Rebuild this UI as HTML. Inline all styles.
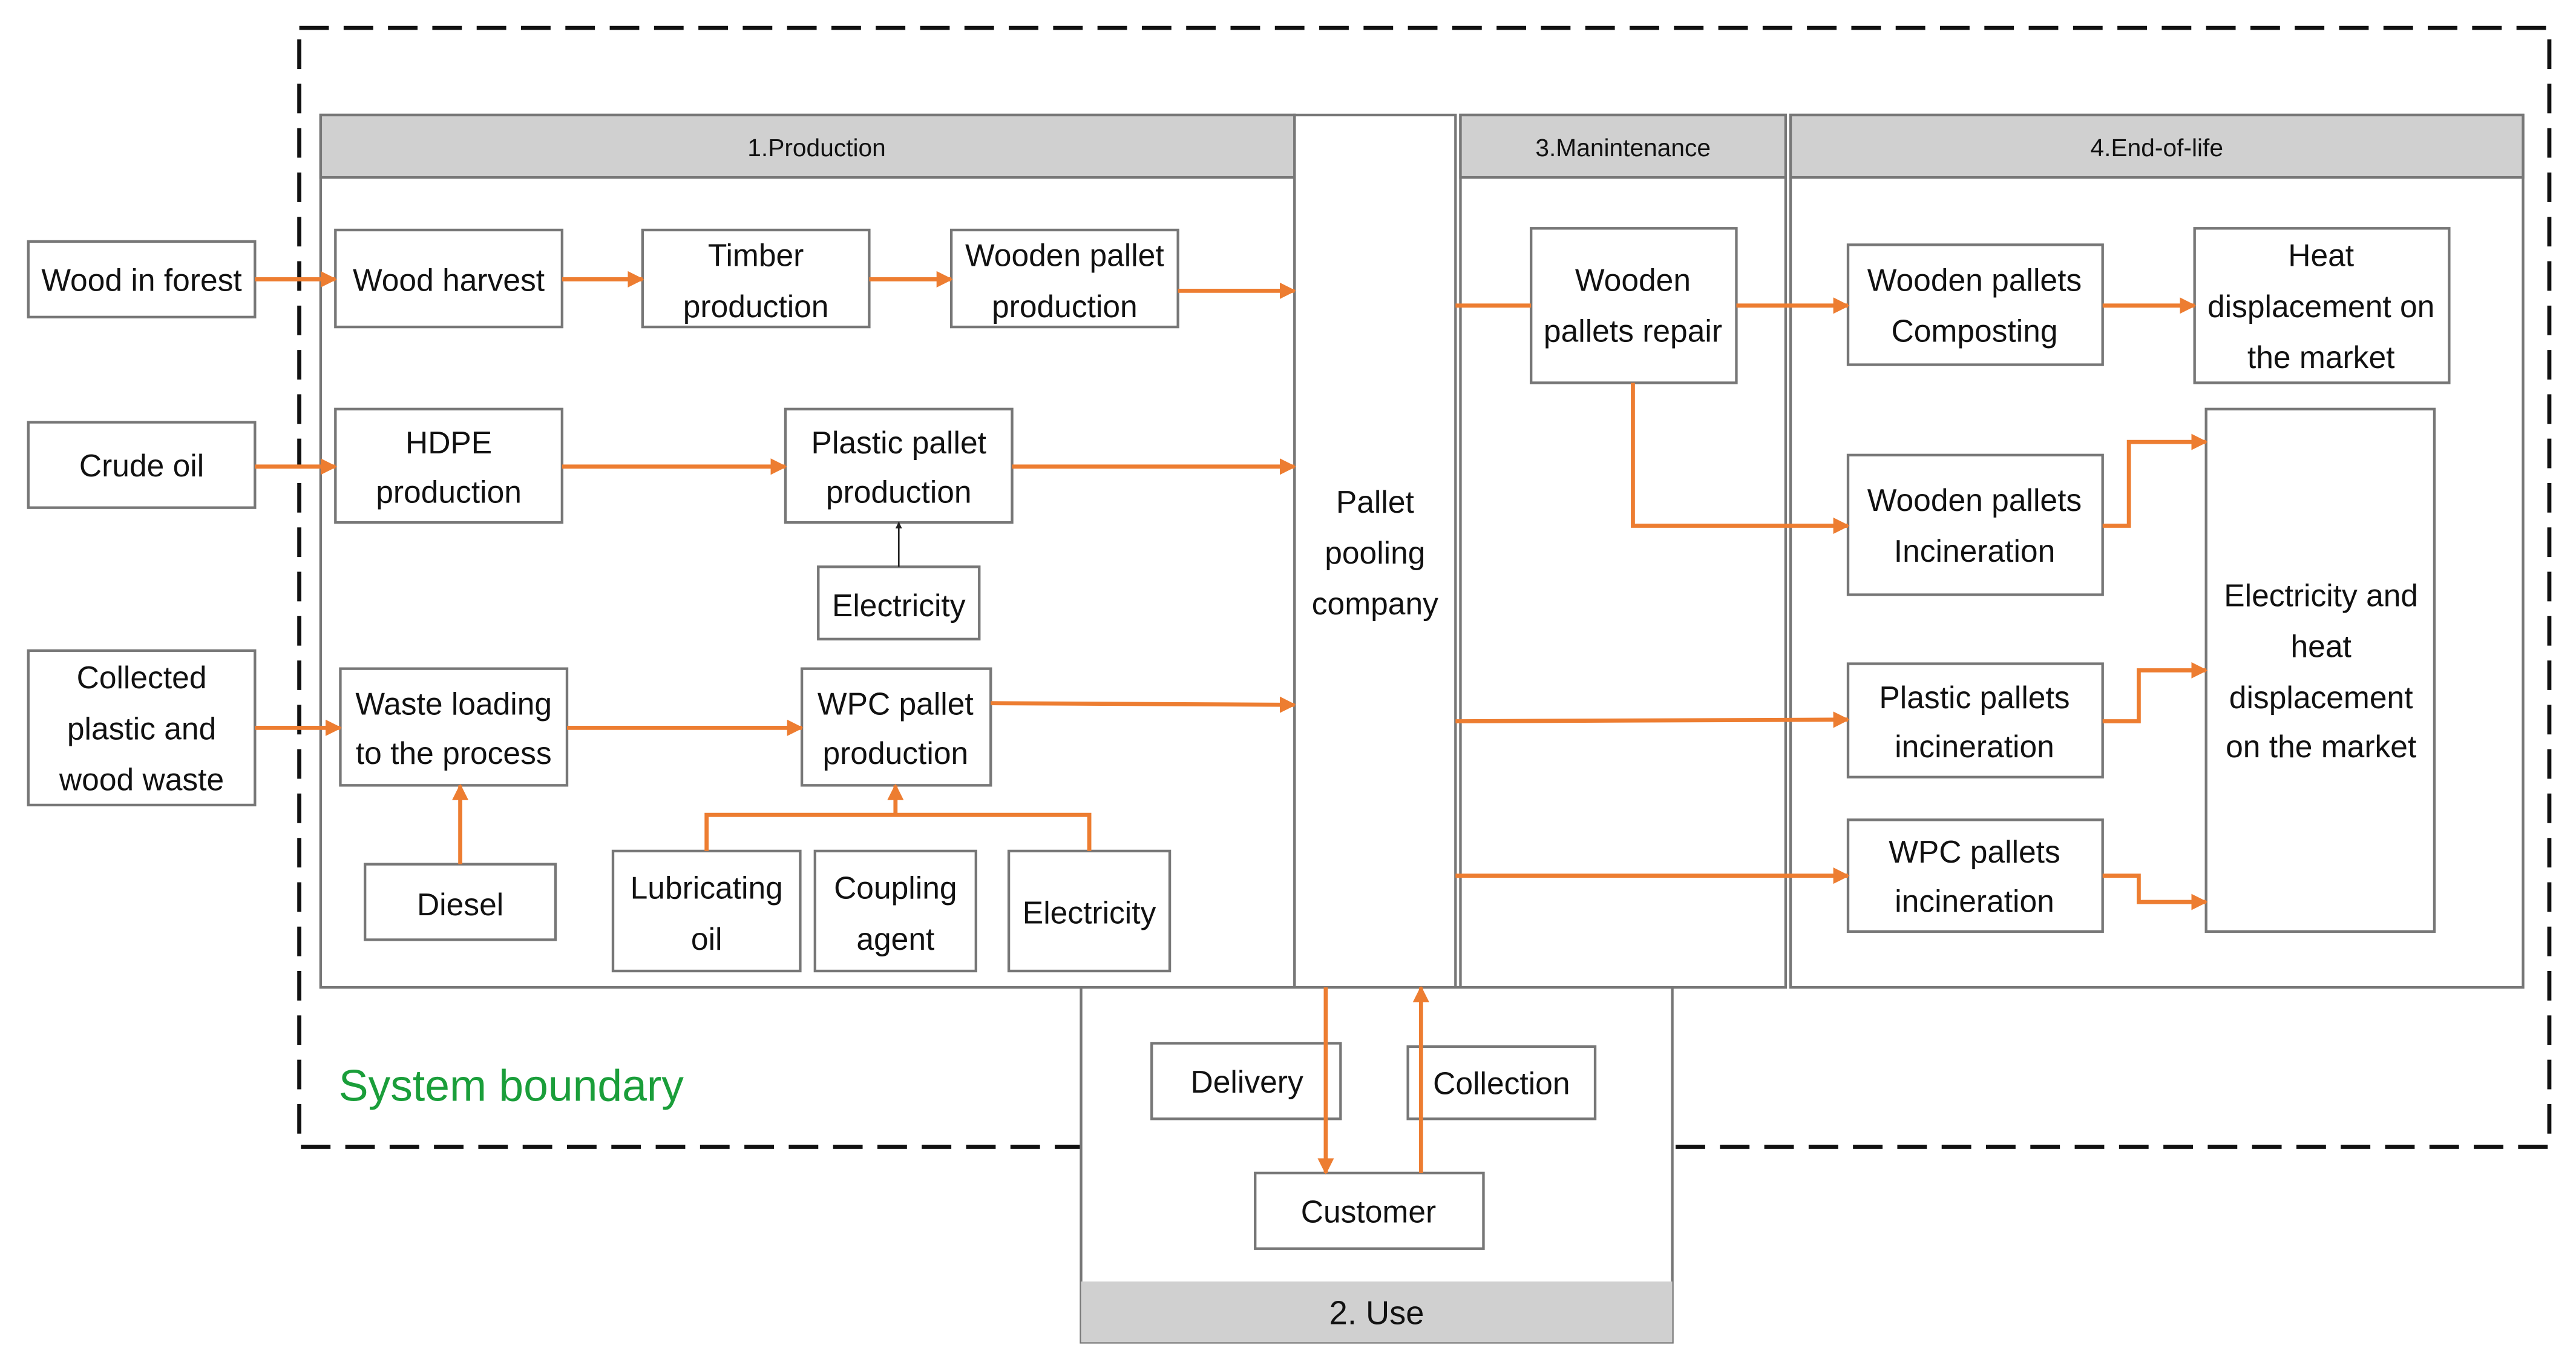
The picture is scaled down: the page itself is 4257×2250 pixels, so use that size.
<!DOCTYPE html>
<html><head><meta charset="utf-8"><style>
html,body{margin:0;padding:0;background:#fff;}
svg{display:block;}
text{font-family:"Liberation Sans Narrow","Liberation Sans",sans-serif;fill:#111;}
</style></head><body>
<svg width="4257" height="2250" viewBox="0 0 1568 829" xmlns="http://www.w3.org/2000/svg">
<defs>
<marker id="a" viewBox="0 0 10 10" refX="9" refY="5" markerWidth="4" markerHeight="4" orient="auto"><path d="M0,0L10,5L0,10z" fill="#ed7d31"/></marker>
<marker id="k" viewBox="0 0 10 10" refX="9" refY="5" markerWidth="4" markerHeight="4" orient="auto"><path d="M0,0L10,5L0,10z" fill="#222"/></marker>
</defs>
<rect width="1568" height="829" fill="#fff"/>
<rect x="182" y="17" width="1370" height="681" fill="none" stroke="#111" stroke-width="2.5" stroke-dasharray="18,9"/>
<text x="206" y="670" font-size="27" style="fill:#1a9e3a">System boundary</text>

<g stroke="#777" stroke-width="1.6" fill="#fff">
<rect x="195" y="70" width="593" height="531"/>
<rect x="195" y="70" width="593" height="38" fill="#d0d0d0"/>
<rect x="788" y="70" width="98" height="531"/>
<rect x="889" y="70" width="198" height="531"/>
<rect x="889" y="70" width="198" height="38" fill="#d0d0d0"/>
<rect x="1090" y="70" width="446" height="531"/>
<rect x="1090" y="70" width="446" height="38" fill="#d0d0d0"/>
<rect x="658" y="601" width="360" height="216"/>
<rect x="658" y="780" width="360" height="37" fill="#d0d0d0" stroke="none"/>
</g>
<g font-size="15" text-anchor="middle">
<text x="497" y="95">1.Production</text>
<text x="988" y="95">3.Manintenance</text>
<text x="1313" y="95">4.End-of-life</text>
</g>
<text x="838" y="806" font-size="20" text-anchor="middle">2. Use</text>

<g stroke="#777" stroke-width="1.6" fill="#fff">
<rect x="17" y="147" width="138" height="46"/>
<rect x="17" y="257" width="138" height="52"/>
<rect x="17" y="396" width="138" height="94"/>
<rect x="204" y="140" width="138" height="59"/>
<rect x="391" y="140" width="138" height="59"/>
<rect x="579" y="140" width="138" height="59"/>
<rect x="204" y="249" width="138" height="69"/>
<rect x="478" y="249" width="138" height="69"/>
<rect x="498" y="345" width="98" height="44"/>
<rect x="207" y="407" width="138" height="71"/>
<rect x="488" y="407" width="115" height="71"/>
<rect x="222" y="526" width="116" height="46"/>
<rect x="373" y="518" width="114" height="73"/>
<rect x="496" y="518" width="98" height="73"/>
<rect x="614" y="518" width="98" height="73"/>
<rect x="932" y="139" width="125" height="94"/>
<rect x="1125" y="149" width="155" height="73"/>
<rect x="1336" y="139" width="155" height="94"/>
<rect x="1125" y="277" width="155" height="85"/>
<rect x="1125" y="404" width="155" height="69"/>
<rect x="1125" y="499" width="155" height="68"/>
<rect x="1343" y="249" width="139" height="318"/>
<rect x="701" y="635" width="115" height="46"/>
<rect x="857" y="637" width="114" height="44"/>
<rect x="764" y="714" width="139" height="46"/>
</g>

<g font-size="19" text-anchor="middle">
<text x="86" y="177">Wood in forest</text>
<text x="86" y="290">Crude oil</text>
<text x="86" y="419">Collected</text><text x="86" y="450">plastic and</text><text x="86" y="481">wood waste</text>
<text x="273" y="177">Wood harvest</text>
<text x="460" y="162">Timber</text><text x="460" y="193">production</text>
<text x="648" y="162">Wooden pallet</text><text x="648" y="193">production</text>
<text x="273" y="276">HDPE</text><text x="273" y="306">production</text>
<text x="547" y="276">Plastic pallet</text><text x="547" y="306">production</text>
<text x="547" y="375">Electricity</text>
<text x="276" y="435">Waste loading</text><text x="276" y="465">to the process</text>
<text x="545" y="435">WPC pallet</text><text x="545" y="465">production</text>
<text x="280" y="557">Diesel</text>
<text x="430" y="547">Lubricating</text><text x="430" y="578">oil</text>
<text x="545" y="547">Coupling</text><text x="545" y="578">agent</text>
<text x="663" y="562">Electricity</text>
<text x="837" y="312">Pallet</text><text x="837" y="343">pooling</text><text x="837" y="374">company</text>
<text x="994" y="177">Wooden</text><text x="994" y="208">pallets repair</text>
<text x="1202" y="177">Wooden pallets</text><text x="1202" y="208">Composting</text>
<text x="1413" y="162">Heat</text><text x="1413" y="193">displacement on</text><text x="1413" y="224">the market</text>
<text x="1202" y="311">Wooden pallets</text><text x="1202" y="342">Incineration</text>
<text x="1202" y="431">Plastic pallets</text><text x="1202" y="461">incineration</text>
<text x="1202" y="525">WPC pallets</text><text x="1202" y="555">incineration</text>
<text x="1413" y="369">Electricity and</text><text x="1413" y="400">heat</text><text x="1413" y="431">displacement</text><text x="1413" y="461">on the market</text>
<text x="759" y="665">Delivery</text>
<text x="914" y="666">Collection</text>
<text x="833" y="744">Customer</text>
</g>

<g stroke="#ed7d31" stroke-width="2.5" fill="none" marker-end="url(#a)">
<line x1="155" y1="170" x2="204" y2="170"/>
<line x1="342" y1="170" x2="391" y2="170"/>
<line x1="529" y1="170" x2="579" y2="170"/>
<line x1="717" y1="177" x2="788" y2="177"/>
<line x1="155" y1="284" x2="204" y2="284"/>
<line x1="342" y1="284" x2="478" y2="284"/>
<line x1="616" y1="284" x2="788" y2="284"/>
<line x1="155" y1="443" x2="207" y2="443"/>
<line x1="345" y1="443" x2="488" y2="443"/>
<line x1="603" y1="428" x2="788" y2="429"/>
<line x1="280" y1="526" x2="280" y2="478"/>
<polyline points="430,518 430,496 663,496 663,518" marker-end="none"/>
<line x1="545" y1="496" x2="545" y2="478"/>
<line x1="886" y1="186" x2="932" y2="186" marker-end="none"/>
<line x1="1057" y1="186" x2="1125" y2="186"/>
<line x1="1280" y1="186" x2="1336" y2="186"/>
<polyline points="994,233 994,320 1125,320"/>
<polyline points="1280,320 1296,320 1296,269 1343,269"/>
<line x1="886" y1="439" x2="1125" y2="438"/>
<polyline points="1280,439 1302,439 1302,408 1343,408"/>
<line x1="886" y1="533" x2="1125" y2="533"/>
<polyline points="1280,533 1302,533 1302,549 1343,549"/>
<line x1="807" y1="601" x2="807" y2="714"/>
<line x1="865" y1="714" x2="865" y2="601"/>
</g>
<line x1="547" y1="345" x2="547" y2="318" stroke="#222" stroke-width="1" marker-end="url(#k)"/>
</svg>
</body></html>
